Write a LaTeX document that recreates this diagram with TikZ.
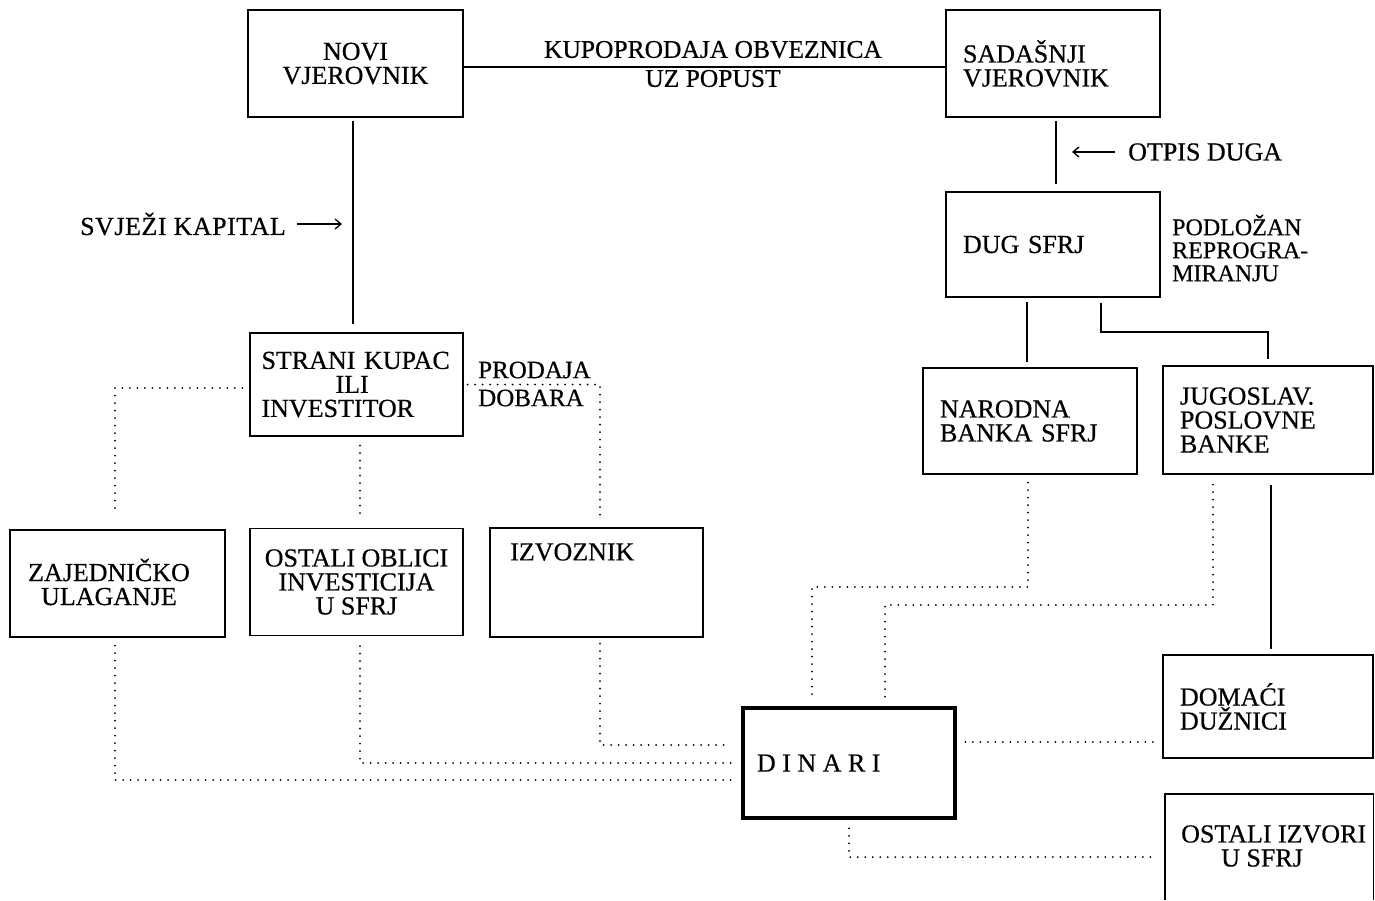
\documentclass[tikz,border=0pt]{standalone}
\usepackage{fontspec}
\setmainfont{Liberation Serif}[FakeBold=0.5]
\usetikzlibrary{calc,arrows.meta}
\newcommand\bigfs{\fontsize{26}{24}\selectfont}
\begin{document}
\begin{tikzpicture}[x=1pt,y=-1pt,
  box/.style={draw, line width=1.4pt, inner sep=0pt, font=\bigfs, align=center},
  ln/.style={line width=1.4pt},
  dot/.style={line width=2pt, line cap=round, dash pattern=on 0pt off 7.5pt},
  arr/.style={line width=1.5pt, -{Straight Barb[length=6pt,width=10pt,line width=1.3pt]}},
  lbl/.style={inner sep=0pt, font=\bigfs, align=left}]
\useasboundingbox (0,0) rectangle (1375,900);

% boxes
\node[box, minimum width=215pt, minimum height=107pt] (novi) at (355.5,63.5) {NOVI\\VJEROVNIK};
\node[box, minimum width=214pt, minimum height=107pt, text width=180pt, align=left] (sad) at (1053,63.5) {SADAŠNJI\\VJEROVNIK};
\node[box, minimum width=214pt, minimum height=105pt, text width=180pt, align=left] (dug) at (1053,244.5) {DUG SFRJ};
\node[box, minimum width=213pt, minimum height=103pt, text width=190pt, align=left] (strani) at (356.5,384.5) {STRANI KUPAC\\\hspace*{74pt}ILI\\INVESTITOR};
\node[box, minimum width=215pt, minimum height=107pt] (zaj) at (117.5,583.5) {};
\node[lbl, align=center] (zajt) at (109,582) {ZAJEDNIČKO\\ULAGANJE};
\node[box, minimum width=213pt, minimum height=107pt] (ostob) at (356.5,582) {OSTALI OBLICI\\INVESTICIJA\\U SFRJ};
\node[box, minimum width=213pt, minimum height=109pt] (izv) at (596.5,582.5) {};
\node[lbl, anchor=west] (izvt) at (510,552) {IZVOZNIK};
\node[box, minimum width=214pt, minimum height=106pt, text width=180pt, align=left] (nar) at (1030,421) {NARODNA\\BANKA SFRJ};
\node[box, minimum width=210pt, minimum height=108pt, text width=176pt, align=left] (jug) at (1268,420) {JUGOSLAV.\\POSLOVNE\\BANKE};
\node[box, line width=4.5pt, minimum width=212pt, minimum height=110pt, text width=184pt, align=left] (din) at (849,763) {D\hspace{6.5pt}I\hspace{6.5pt}N\hspace{6.5pt}A\hspace{6.5pt}R\hspace{6.5pt}I};
\node[box, minimum width=210pt, minimum height=103pt, text width=176pt, align=left] (dom) at (1268,706.5) {DOMAĆI\\DUŽNICI};
\node[inner sep=0pt, minimum width=208pt, minimum height=106pt] (ostiz) at (1269,847) {};
\draw[ln] (ostiz.south west) |- (ostiz.north east) -- (ostiz.south east);
\node[lbl, anchor=west] (ostizt) at (1181,846) {OSTALI IZVORI\\\hspace*{40pt}U SFRJ};

% labels
\node[inner sep=0pt, font=\fontsize{25.5}{29}\selectfont, align=center] (kup) at (713,64) {KUPOPRODAJA OBVEZNICA\\UZ POPUST};
\node[lbl, anchor=west] (otpis) at (1128,152) {OTPIS DUGA};
\coordinate (oa) at (1115,152);
\coordinate (ob) at (1072,152);
\draw[arr] (oa) -- (ob);
\node[lbl, anchor=west, font=\fontsize{26}{24}\addfontfeature{LetterSpace=2}] (svj) at (80,224) {SVJEŽI KAPITAL};
\coordinate (sa) at (297,224);
\coordinate (sb) at (342,224);
\draw[arr] (sa) -- (sb);
\node[lbl, anchor=west, font=\fontsize{24}{23}\selectfont] (podl) at (1172,248) {PODLOŽAN\\REPROGRA-\\MIRANJU};
\node[lbl, anchor=west, font=\fontsize{25}{28}\selectfont] (prod) at (478,384) {PRODAJA\\DOBARA};

% solid connectors
\draw[ln] ([yshift=-3.5pt]novi.east) -- ([yshift=-3.5pt]sad.west);
\draw[ln, shorten <=3pt, shorten >=7pt] ([xshift=3pt]sad.south) -- ([xshift=3pt]dug.north);
\draw[ln, shorten <=3pt, shorten >=8pt] ([xshift=-2.5pt]novi.south) -- ([xshift=-3.5pt]strani.north);
\draw[ln, shorten <=4pt, shorten >=5pt] ([xshift=-26pt]dug.south) -- ([xshift=-3pt]nar.north);
\coordinate (dj) at (1101,332);
\draw[ln, shorten <=5pt, shorten >=6pt] ([xshift=48pt]dug.south) |- (dj) -| (jug.north);
\draw[ln, shorten <=10pt, shorten >=5pt] ([xshift=3pt]jug.south) -- ([xshift=3pt]dom.north);

% dotted connectors
\draw[dot, shorten <=7pt, shorten >=15pt] ([yshift=-3.5pt]strani.west) -| ([xshift=-2.5pt]zaj.north);
\draw[dot, shorten <=4pt, shorten >=10pt] (strani.east) -| ([xshift=3.5pt]izv.north);
\draw[dot, shorten <=9pt, shorten >=10pt] ([xshift=3.5pt]strani.south) -- ([xshift=3.5pt]ostob.north);
\draw[dot, shorten <=8pt, shorten >=10pt] ([xshift=-2.5pt]zaj.south) |- ([yshift=-17pt]din.west);
\draw[dot, shorten <=10pt, shorten >=10pt] ([xshift=3.5pt]ostob.south) |- (din.west);
\draw[dot, shorten <=6pt, shorten >=10pt] ([xshift=3.5pt]izv.south) |- ([yshift=18pt]din.west);
\coordinate (n1) at (812,587);
\draw[dot, shorten <=8pt, shorten >=5pt] ([xshift=-2pt]nar.south) |- (n1) -- (n1 |- din.north);
\coordinate (j1) at (885,605);
\draw[dot, shorten <=10pt, shorten >=5pt] ([xshift=-55pt]jug.south) |- (j1) -- (j1 |- din.north);
\coordinate (d1) at ([yshift=21pt]din.east);
\draw[dot, shorten <=8pt, shorten >=6pt] (d1) -- (d1 -| dom.west);
\draw[dot, shorten <=8pt, shorten >=8pt] (din.south) |- ([yshift=-10pt]ostiz.west);
\end{tikzpicture}
\end{document}
